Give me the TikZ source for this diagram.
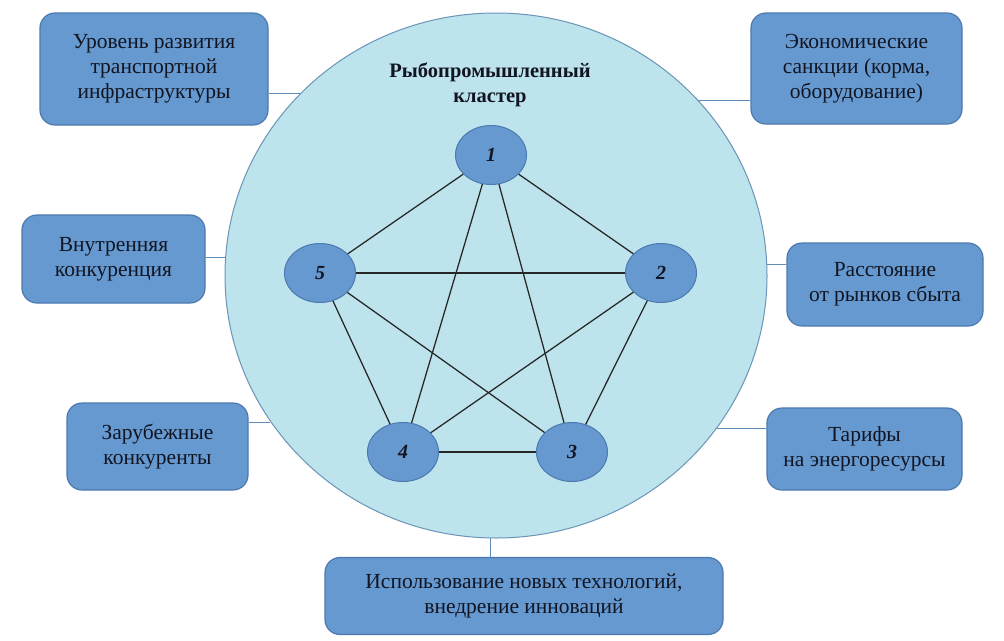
\documentclass[tikz,border=0pt]{standalone}
\usepackage{fontspec}
\setmainfont{Liberation Serif}
\usetikzlibrary{shapes.geometric}
\definecolor{boxblue}{HTML}{6699CF}
\definecolor{boxedge}{HTML}{4C79B0}
\definecolor{circfill}{HTML}{BDE3EC}
\definecolor{circedge}{HTML}{6A94B8}
\definecolor{linkcol}{HTML}{5F8DB8}
\definecolor{txt}{HTML}{111522}
\tikzset{
  factor/.style={rectangle, rounded corners=15pt, draw=boxedge, line width=1.2pt, fill=boxblue,
    align=center, text=txt, font=\fontsize{21.5}{25}\selectfont, inner sep=2pt},
  vert/.style={ellipse, draw=boxedge, line width=1pt, fill=boxblue, minimum width=71pt, minimum height=59pt,
    font=\fontsize{20}{22}\selectfont\bfseries\itshape, text=txt, inner sep=0pt},
  edge/.style={draw=black!85, line width=1.25pt},
  link/.style={draw=linkcol, line width=1pt}
}
\begin{document}
\begin{tikzpicture}[x=1pt,y=-1pt]
\useasboundingbox (0,0) rectangle (1004,640);
% big cluster circle
\node[ellipse, draw=circedge, line width=1pt, fill=circfill, minimum width=542pt, minimum height=525pt, inner sep=0pt] (cl) at (496,275.5) {};
\node[font=\fontsize{20.5}{25}\selectfont\bfseries, text=txt, align=center] (title) at (490,85) {Рыбопромышленный\\кластер};
% factor boxes
\node[factor, minimum width=228pt, minimum height=112pt] (f1) at (154,69) {Уровень развития\\транспортной\\инфраструктуры};
\node[factor, minimum width=211pt, minimum height=111pt] (f2) at (856.5,68.5) {Экономические\\санкции (корма,\\оборудование)};
\node[factor, minimum width=183pt, minimum height=88pt] (f3) at (113.5,259) {Внутренняя\\конкуренция};
\node[factor, minimum width=196pt, minimum height=83pt] (f4) at (885,284.5) {Расстояние\\от рынков сбыта};
\node[factor, minimum width=181pt, minimum height=87pt] (f5) at (157.5,446.5) {Зарубежные\\конкуренты};
\node[factor, minimum width=195pt, minimum height=82pt] (f6) at (864.5,449) {Тарифы\\на энергоресурсы};
\node[factor, minimum width=398pt, minimum height=77pt] (f7) at (524,596) {Использование новых технологий,\\внедрение инноваций};
% connection points on the circle
\coordinate (c1) at (301,93);
\coordinate (c2) at (697.5,100);
\coordinate (c3) at (225.7,257);
\coordinate (c4) at (766.5,264);
\coordinate (c5) at (270,422);
\coordinate (c6) at (717,428);
\coordinate (c7) at (490,538);
\draw[link] (c1) -- (c1 -| f1.east);
\draw[link] (c2) -- (c2 -| f2.west);
\draw[link] (c3) -- (c3 -| f3.east);
\draw[link] (c4) -- (c4 -| f4.west);
\draw[link] (c5) -- (c5 -| f5.east);
\draw[link] (c6) -- (c6 -| f6.west);
\draw[link] (c7) -- (c7 |- f7.north);
% graph
\node[vert] (n1) at (491,155) {1};
\node[vert] (n2) at (661,273) {2};
\node[vert] (n3) at (572,452) {3};
\node[vert] (n4) at (403,452) {4};
\node[vert] (n5) at (320,273) {5};
\draw[edge] (n1) -- (n5);
\draw[edge] (n1) -- (n2);
\draw[edge] (n1) -- (n4);
\draw[edge] (n1) -- (n3);
\draw[edge] (n5) -- (n2);
\draw[edge] (n5) -- (n4);
\draw[edge] (n5) -- (n3);
\draw[edge] (n2) -- (n4);
\draw[edge] (n2) -- (n3);
\draw[edge] (n4) -- (n3);
\end{tikzpicture}
\end{document}
